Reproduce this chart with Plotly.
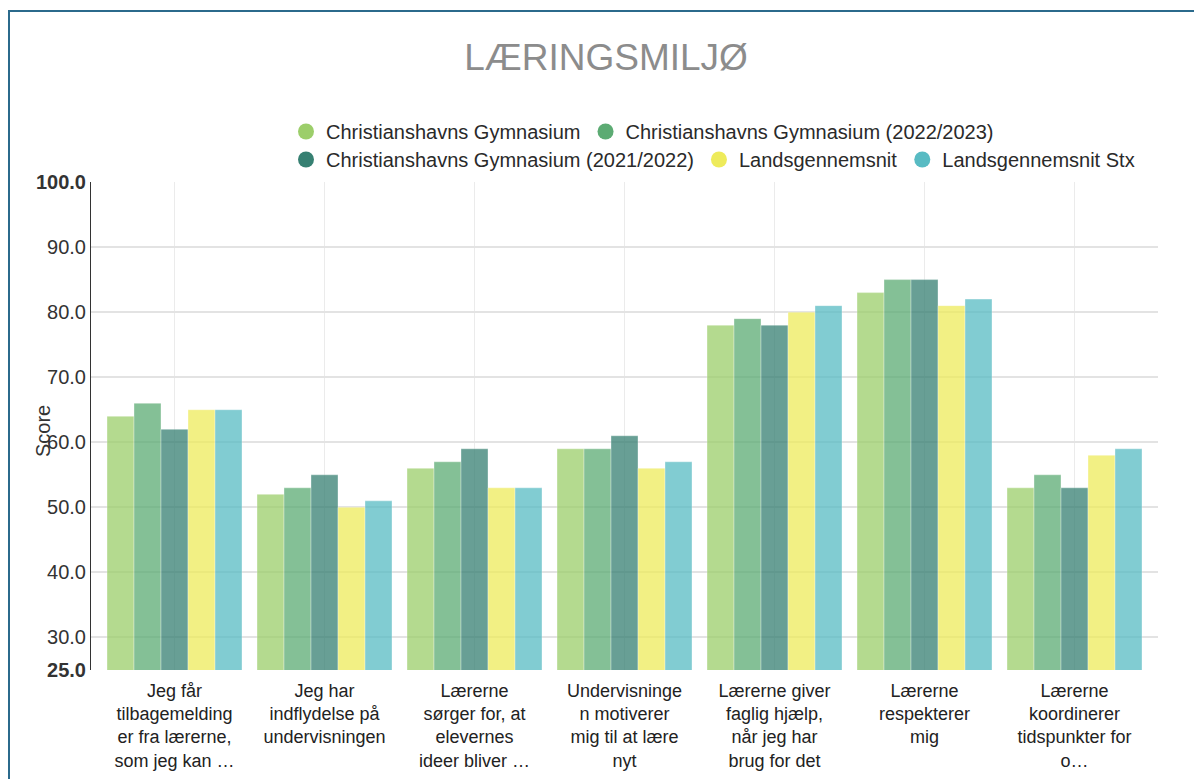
import plotly.graph_objects as go

categories = [
    "Jeg får<br>tilbagemelding<br>er fra lærerne,<br>som jeg kan …",
    "Jeg har<br>indflydelse på<br>undervisningen",
    "Lærerne<br>sørger for, at<br>elevernes<br>ideer bliver …",
    "Undervisninge<br>n motiverer<br>mig til at lære<br>nyt",
    "Lærerne giver<br>faglig hjælp,<br>når jeg har<br>brug for det",
    "Lærerne<br>respekterer<br>mig",
    "Lærerne<br>koordinerer<br>tidspunkter for<br>o…",
]
series_names = [
    "Christianshavns Gymnasium",
    "Christianshavns Gymnasium (2022/2023)",
    "Christianshavns Gymnasium (2021/2022)",
    "Landsgennemsnit",
    "Landsgennemsnit Stx",
]
cg_current = [64, 52, 56, 59, 78, 83, 53]
cg_2223 = [66, 53, 57, 59, 79, 85, 55]
cg_2122 = [62, 55, 59, 61, 78, 85, 53]
lands = [65, 50, 53, 56, 80, 81, 58]
lands_stx = [65, 51, 53, 57, 81, 82, 59]
series_values = [cg_current, cg_2223, cg_2122, lands, lands_stx]
colors = ["#9cce6a", "#5cab73", "#368072", "#eeeb5b", "#58bbc3"]
tick_vals = [25, 30, 40, 50, 60, 70, 80, 90, 100]
tick_text = ["<b>25.0</b>", "30.0", "40.0", "50.0", "60.0", "70.0", "80.0", "90.0", "<b>100.0</b>"]

FONT = "Liberation Sans, Arial, sans-serif"
OFF = 8  # page body margin
W, H = 1202 - OFF, 779 - OFF
L, R, T, B = 91 - OFF, 1158 - OFF, 182 - OFF, 670 - OFF


def px_x(x):
    return (x - OFF - L) / (R - L)


def px_y(y):
    return (B - (y - OFF)) / (B - T)


fig = go.Figure()
for name, vals, col in zip(series_names, series_values, colors):
    fig.add_trace(go.Bar(
        x=categories, y=vals, name=name, showlegend=False,
        marker=dict(color=col, opacity=0.75,
                    line=dict(color="rgba(255,255,255,0.35)", width=1)),
    ))

for i, (name, col) in enumerate(zip(series_names, colors)):
    fig.add_trace(go.Scatter(
        x=[None], y=[None], mode="markers", name=name,
        marker=dict(color=col, size=16, symbol="circle"),
        legend="legend" if i < 2 else "legend2",
        showlegend=True,
    ))

legend_common = dict(
    orientation="h", xref="container", yref="container",
    xanchor="left", yanchor="top",
    font=dict(family=FONT, size=20, color="#2a2a2a"),
    bgcolor="rgba(0,0,0,0)", itemclick=False, itemdoubleclick=False,
    tracegroupgap=0, itemwidth=30,
)

fig.update_layout(
    width=W, height=H,
    margin=dict(l=L, r=W - R, t=T, b=H - B, autoexpand=False),
    paper_bgcolor="white", plot_bgcolor="white",
    font=dict(family=FONT, size=19, color="#333333"),
    title=dict(text="LÆRINGSMILJØ", x=(606 - OFF) / W, xref="container", xanchor="center",
               y=1 - (57 - OFF) / H, yref="container", yanchor="middle",
               font=dict(family=FONT, size=37, color="#8c8c8c")),
    barmode="group", bargap=0.1, bargroupgap=0,
    legend=dict(x=(286 - OFF) / W, y=1 - (104) / H, **legend_common),
    legend2=dict(x=(286 - OFF) / W, y=1 - (132) / H, **legend_common),
    xaxis=dict(
        type="category", range=[-0.5 - 8.5 / 150, 6.5 + 8.5 / 150],
        showgrid=True, gridcolor="#ebebeb", gridwidth=1,
        showline=False, zeroline=False,
        ticks="outside", ticklen=4, tickcolor="rgba(0,0,0,0)",
        tickfont=dict(family=FONT, size=18, color="#222222"),
        automargin=False,
    ),
    yaxis=dict(
        range=[25, 100], tickvals=tick_vals, ticktext=tick_text,
        showgrid=True, gridcolor="#e3e3e3", gridwidth=1.5,
        showline=True, linecolor="#333333", linewidth=1,
        zeroline=False, ticks="",
        tickfont=dict(family=FONT, size=20, color="#333333"),
        automargin=False,
    ),
    annotations=[dict(
        text="Score", textangle=-90, xref="paper", yref="paper",
        x=px_x(43), y=px_y(431),
        xanchor="center", yanchor="middle", showarrow=False,
        font=dict(family=FONT, size=20, color="#333333"),
    )],
    shapes=[
        dict(type="line", xref="paper", yref="paper",
             x0=px_x(9), x1=px_x(9),
             y0=px_y(10), y1=px_y(800),
             line=dict(color="#2b6a8c", width=2)),
        dict(type="line", xref="paper", yref="paper",
             x0=px_x(8), x1=px_x(1210),
             y0=px_y(11), y1=px_y(11),
             line=dict(color="#2b6a8c", width=2)),
    ],
)

fig.write_html("out.html")
